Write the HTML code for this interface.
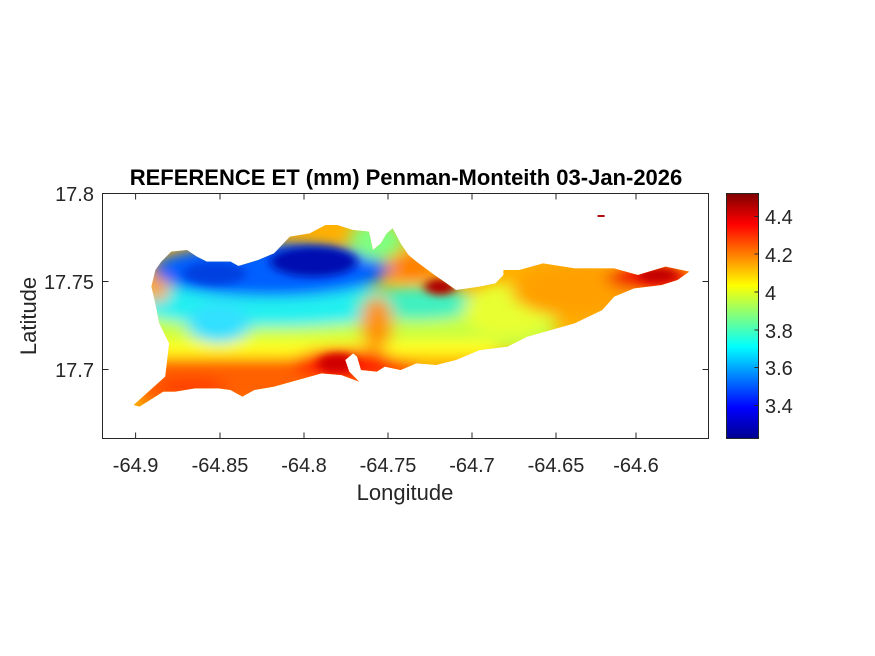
<!DOCTYPE html>
<html><head><meta charset="utf-8"><style>
html,body{margin:0;padding:0;background:#fff;width:875px;height:656px;overflow:hidden}
svg text{font-family:"Liberation Sans",Arial,sans-serif}
</style></head><body>
<svg width="875" height="656" viewBox="0 0 875 656" xmlns="http://www.w3.org/2000/svg">
<defs>
<linearGradient id="jet" x1="0" y1="1" x2="0" y2="0">
<stop offset="0" stop-color="#00008f"/>
<stop offset="0.125" stop-color="#0000ff"/>
<stop offset="0.375" stop-color="#00ffff"/>
<stop offset="0.625" stop-color="#ffff00"/>
<stop offset="0.875" stop-color="#ff0000"/>
<stop offset="1" stop-color="#800000"/>
</linearGradient>
<clipPath id="isl">
<polygon points="85,645 165,560 175,460 150,400 140,340 130,290 140,240 155,215 180,185 220,180 245,200 270,215 330,215 350,228 400,210 440,190 480,140 530,130 570,105 600,105 640,120 680,125 690,180 710,160 725,130 740,115 760,160 780,195 800,215 840,250 870,275 900,300 960,290 1000,280 1020,255 1020,240 1060,240 1120,220 1200,235 1300,235 1360,255 1430,230 1490,245 1460,270 1420,285 1350,295 1300,320 1270,360 1200,400 1140,420 1080,440 1030,470 960,480 900,510 850,525 800,520 760,540 720,530 700,545 660,540 650,500 640,490 620,510 630,545 655,575 610,555 560,550 500,570 440,590 390,600 360,620 330,600 300,595 240,595 190,605 160,605 100,650"/>
</clipPath>
<filter id="bl" x="-50%" y="-50%" width="200%" height="200%"><feGaussianBlur stdDeviation="20"/></filter>
<filter id="bs" x="-50%" y="-50%" width="200%" height="200%"><feGaussianBlur stdDeviation="12"/></filter>
</defs>
<rect x="102.5" y="193.5" width="606" height="245" fill="#fff" stroke="#262626" stroke-width="1"/>
<g transform="translate(100,190) scale(0.3955,0.3333)">
<g clip-path="url(#isl)">
<rect x="0" y="0" width="1550" height="780" fill="#ffb000"/>
<g filter="url(#bl)">
<rect x="100" y="350" width="1050" height="130" fill="#c8ff40"/>
<rect x="100" y="450" width="900" height="50" fill="#ffff20"/>
<rect x="100" y="510" width="700" height="130" fill="#ff6000"/>
<ellipse cx="430" cy="340" rx="360" ry="70" fill="#20f0f0"/>
<ellipse cx="300" cy="400" rx="80" ry="60" fill="#30e0ff"/>
<ellipse cx="430" cy="240" rx="300" ry="80" fill="#0060ff"/>
<ellipse cx="800" cy="340" rx="160" ry="50" fill="#40f0c0"/>
<ellipse cx="1030" cy="360" rx="110" ry="80" fill="#e8ff30"/>
<ellipse cx="700" cy="150" rx="70" ry="60" fill="#80ff80"/>
<ellipse cx="1200" cy="300" rx="160" ry="80" fill="#ffa000"/>
<ellipse cx="1390" cy="265" rx="110" ry="35" fill="#f01000"/>
<ellipse cx="145" cy="300" rx="25" ry="40" fill="#ffa020"/>
<ellipse cx="700" cy="400" rx="40" ry="80" fill="#ff9000"/>
<ellipse cx="620" cy="520" rx="130" ry="45" fill="#ff2000"/>
<ellipse cx="230" cy="590" rx="90" ry="30" fill="#ff4000"/>
<ellipse cx="790" cy="230" rx="60" ry="40" fill="#ff8000"/>
</g>
<g filter="url(#bs)">
<ellipse cx="540" cy="215" rx="110" ry="45" fill="#0010b0"/>
<ellipse cx="290" cy="250" rx="80" ry="35" fill="#0040e0"/>
<ellipse cx="860" cy="290" rx="40" ry="25" fill="#b00000"/>
<ellipse cx="600" cy="520" rx="50" ry="30" fill="#d00000"/>
<ellipse cx="1410" cy="255" rx="50" ry="20" fill="#c00000"/>
</g>
</g>
<rect x="1258" y="75" width="18" height="6" fill="#b01010"/>
</g>
<g stroke="#262626" stroke-width="1">
<path d="M135.6,193.5v6M220,193.5v6M304,193.5v6M388,193.5v6M472,193.5v6M556,193.5v6M636,193.5v6"/>
<path d="M135.6,438.5v-6M220,438.5v-6M304,438.5v-6M388,438.5v-6M472,438.5v-6M556,438.5v-6M636,438.5v-6"/>
<path d="M102.5,281.5h6M102.5,369.5h6M708.5,281.5h-6M708.5,369.5h-6"/>
</g>
<g font-size="20" fill="#262626" text-anchor="middle">
<text x="135.6" y="472">-64.9</text>
<text x="220" y="472">-64.85</text>
<text x="304" y="472">-64.8</text>
<text x="388" y="472">-64.75</text>
<text x="472" y="472">-64.7</text>
<text x="556" y="472">-64.65</text>
<text x="636" y="472">-64.6</text>
</g>
<g font-size="20" fill="#262626" text-anchor="end">
<text x="94" y="201">17.8</text>
<text x="94" y="289">17.75</text>
<text x="94" y="377">17.7</text>
</g>
<text x="405" y="500" font-size="22" fill="#262626" text-anchor="middle">Longitude</text>
<text transform="translate(36,316) rotate(-90)" font-size="22" fill="#262626" text-anchor="middle">Latitude</text>
<text x="406" y="185" font-size="22" font-weight="bold" fill="#000" text-anchor="middle">REFERENCE ET (mm) Penman-Monteith 03-Jan-2026</text>
<rect x="726.5" y="193.5" width="32" height="245" fill="url(#jet)" stroke="#262626" stroke-width="1"/>
<g stroke="#262626" stroke-width="1">
<path d="M758.5,216.5h-4M758.5,254h-4M758.5,292h-4M758.5,330h-4M758.5,367.5h-4M758.5,405.5h-4"/>
</g>
<g font-size="20" fill="#262626">
<text x="765" y="224">4.4</text>
<text x="765" y="262">4.2</text>
<text x="765" y="300">4</text>
<text x="765" y="338">3.8</text>
<text x="765" y="375">3.6</text>
<text x="765" y="413">3.4</text>
</g>
</svg>
</body></html>
